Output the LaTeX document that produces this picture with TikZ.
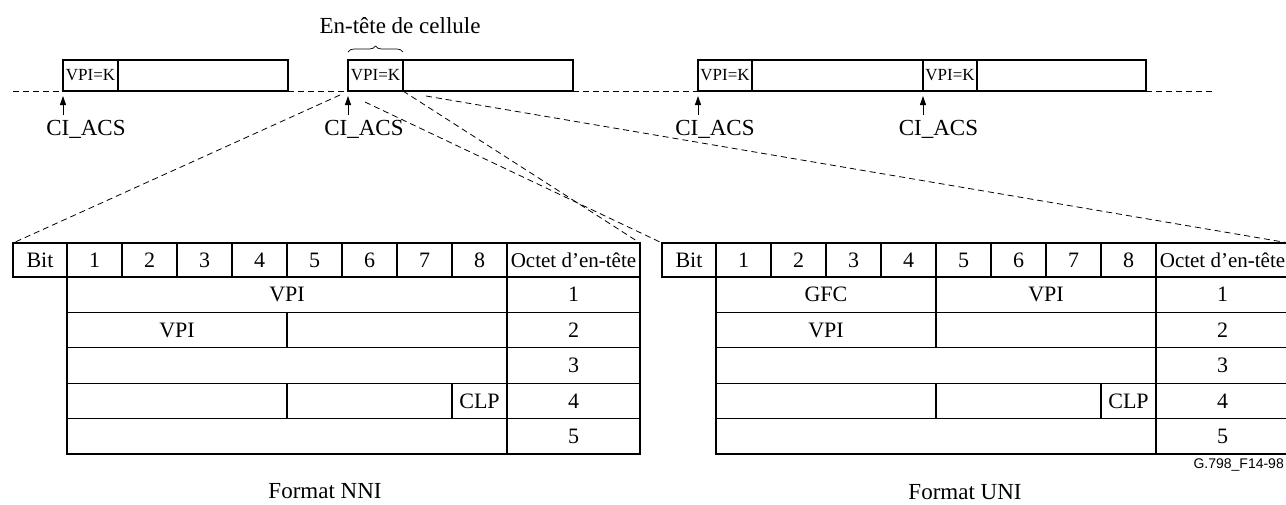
\documentclass[tikz,border=0pt]{standalone}
\usepackage{fontspec}
\setmainfont{Liberation Serif}
\newfontfamily\arialfont{Liberation Sans}
\usetikzlibrary{arrows.meta,decorations.pathreplacing}
\newcommand\cellnode[7][]{%
  \pgfmathsetmacro\cw{#5-#3}%
  \pgfmathsetmacro\ch{#6-#4}%
  \node[box,minimum width=\cw pt,minimum height=\ch pt,#1] (#2) at ({(#3+#5)/2},{(#4+#6)/2}) {#7};}
\newcommand\maketable[1]{%
  \cellnode[tt]{#1bit}{13}{243}{67}{277}{Bit}
  \foreach \i in {1,...,8}{%
    \pgfmathsetmacro\xa{67+55*(\i-1)}%
    \pgfmathsetmacro\xb{\xa+55}%
    \cellnode[tt]{#1h\i}{\xa}{243}{\xb}{277}{\i}}
  \cellnode[ot]{#1oct}{507}{243}{640}{277}{Octet d’en-tête}
  \cellnode[tt]{#1r2a}{67}{312.4}{287}{347.8}{VPI}
  \cellnode[tt]{#1r2b}{287}{312.4}{507}{347.8}{}
  \cellnode[tt]{#1r3}{67}{347.8}{507}{383.2}{}
  \cellnode[tt]{#1r4a}{67}{383.2}{287}{418.6}{}
  \cellnode[tt]{#1r4b}{287}{383.2}{452}{418.6}{}
  \cellnode[tt]{#1r4c}{452}{383.2}{507}{418.6}{CLP}
  \cellnode[tt]{#1r5}{67}{418.6}{507}{454}{}
  \cellnode[tt]{#1n1}{507}{277}{640}{312.4}{1}
  \cellnode[tt]{#1n2}{507}{312.4}{640}{347.8}{2}
  \cellnode[tt]{#1n3}{507}{347.8}{640}{383.2}{3}
  \cellnode[tt]{#1n4}{507}{383.2}{640}{418.6}{4}
  \cellnode[tt]{#1n5}{507}{418.6}{640}{454}{5}
}
\begin{document}
\begin{tikzpicture}[x=1pt,y=-1pt,
  box/.style={draw, line width=1.1pt, inner sep=0pt, outer sep=0pt},
  vpik/.style={font=\fontsize{17}{17}\selectfont},
  tt/.style={font=\fontsize{22}{22}\selectfont},
  ot/.style={font=\fontsize{21}{21}\selectfont},
  lbl/.style={font=\fontsize{23}{23}\selectfont, inner sep=0pt},
  dsh/.style={dash pattern=on 6pt off 4pt, line width=0.8pt},
  arr/.style={-{Triangle[length=9pt,width=6pt]}, line width=0.9pt},
]
\useasboundingbox (0,0) rectangle (1286,504);
% top cell stream
\cellnode[vpik]{h1}{63}{60}{118}{91}{VPI=K}
\cellnode{b1}{118}{60}{288}{91}{}
\cellnode[vpik]{h2}{348}{60}{403}{91}{VPI=K}
\cellnode{b2}{403}{60}{573}{91}{}
\cellnode[vpik]{h3}{698}{60}{752}{91}{VPI=K}
\cellnode{b3}{752}{60}{923}{91}{}
\cellnode[vpik]{h4}{923}{60}{977}{91}{VPI=K}
\cellnode{b4}{977}{60}{1146}{91}{}
\coordinate (lend) at (13,91);
\coordinate (rend) at (1212,91);
\draw[dsh] (lend) -- (h1.south west);
\draw[dsh] (b1.south east) -- (h2.south west);
\draw[dsh] (b2.south east) -- (h3.south west);
\draw[dsh] (b4.south east) -- (rend);
% arrows and labels
\foreach \h in {h1,h2,h3,h4}{
  \draw[arr] ([yshift=-24pt]\h.south west) -- ([yshift=-5pt]\h.south west);}
\node[lbl, anchor=base] (c1) at (86,135) {CI\_ACS};
\node[lbl, anchor=base] (c2) at (364,135) {CI\_ACS};
\node[lbl, anchor=base] (c3) at (715,135) {CI\_ACS};
\node[lbl, anchor=base] (c4) at (938.5,135) {CI\_ACS};
% brace
\draw[decorate, decoration={brace, amplitude=6pt}, line width=0.7pt]
  ([yshift=8pt]h2.north west) -- ([yshift=8pt]h2.north east);
\node[lbl, anchor=base] (title) at (400,33) {En-tête de cellule};
% tables
\maketable{L}
\cellnode[tt]{Lr1}{67}{277}{507}{312.4}{VPI}
\begin{scope}[xshift=649pt]
\maketable{R}
\cellnode[tt]{Rr1a}{67}{277}{287}{312.4}{GFC}
\cellnode[tt]{Rr1b}{287}{277}{507}{312.4}{VPI}
\end{scope}
% expansion lines
\coordinate (sa) at (340,95);
\coordinate (sb) at (365,102);
\coordinate (sd) at (426,96);
\draw[dsh] (sa) -- (Lbit.north west);
\draw[dsh] (h2.south east) -- (Loct.north east);
\draw[dsh] (sb) -- (Rbit.north west);
\draw[dsh] (sd) -- (Roct.north east);
% captions
\node[lbl, anchor=base] (fn) at (325,498) {Format NNI};
\node[lbl, anchor=base] (fu) at (965,499) {Format UNI};
\node[font=\fontsize{14}{14}\arialfont, anchor=base east, inner sep=0pt] (ref) at (1284,468) {G.798\_F14-98};
\end{tikzpicture}
\end{document}
